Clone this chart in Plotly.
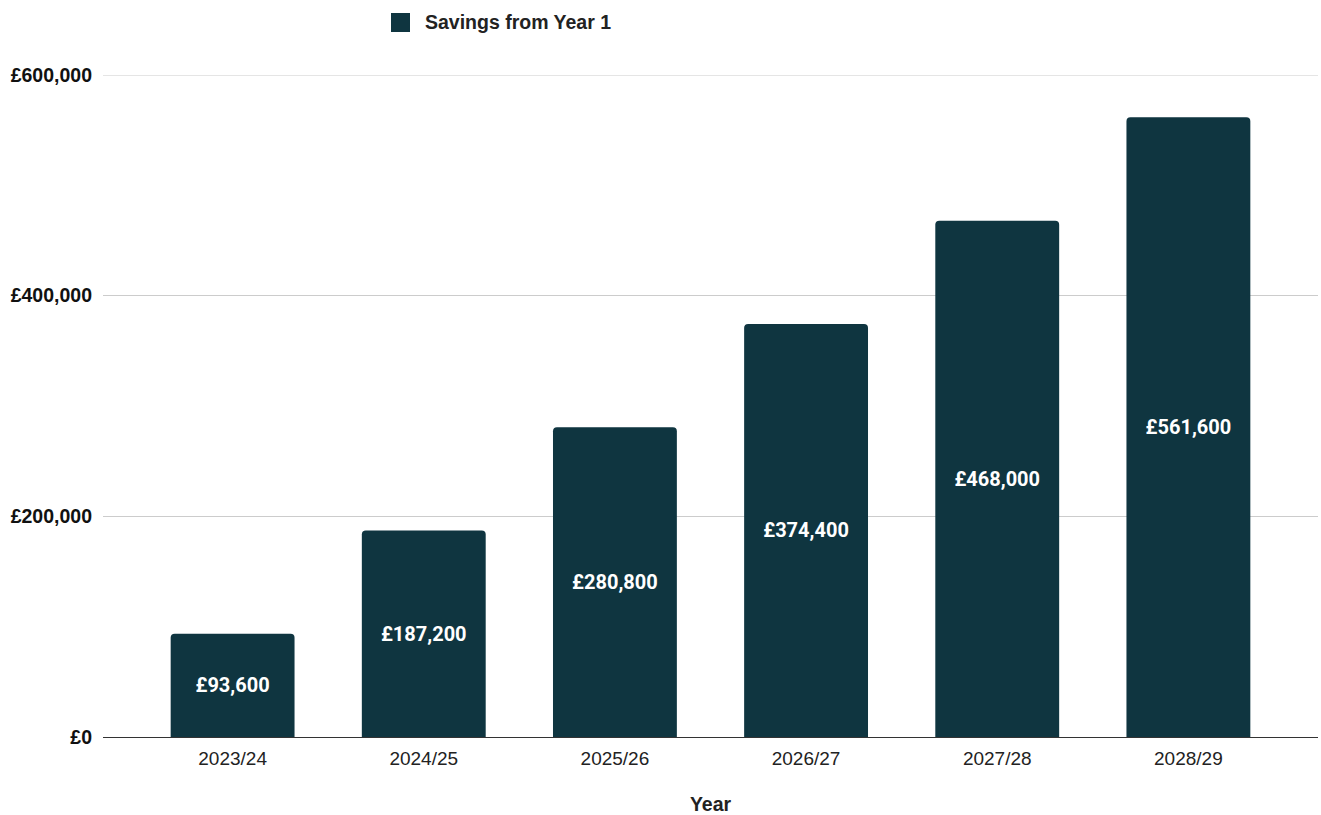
import plotly.graph_objects as go

years = ["2023/24", "2024/25", "2025/26", "2026/27", "2027/28", "2028/29"]
savings = [93600, 187200, 280800, 374400, 468000, 561600]
series_name = "Savings from Year 1"
y_ticks = [0, 200000, 400000, 600000]
y_tick_text = ["£0", "£200,000", "£400,000", "£600,000"]
bar_color = "#0f3540"
grid_color = "#cccccc"

fig = go.Figure()
fig.add_trace(go.Bar(
    x=years, y=savings, name=series_name,
    marker=dict(color=bar_color, line=dict(width=0)),
    width=0.648,
    text=[f"£{v:,.0f}" for v in savings],
    textposition="inside", insidetextanchor="middle",
    textangle=0,
    textfont=dict(family="Roboto", size=20, color="white", weight="bold"),
    showlegend=False,
))
# top gridline at the range edge
fig.add_shape(type="line", xref="paper", yref="y", x0=0, x1=1,
              y0=y_ticks[-1], y1=y_ticks[-1], line=dict(color=grid_color, width=1), layer="below")
# legend swatch + label
fig.add_shape(type="rect", xref="paper", yref="paper",
              x0=(391 - 103) / 1215, x1=(410 - 103) / 1215,
              y0=1 + (75 - 32) / 662, y1=1 + (75 - 13) / 662,
              fillcolor=bar_color, line=dict(width=0))
fig.add_annotation(text=series_name, xref="paper", yref="paper",
                   x=(423 - 103) / 1215, xanchor="left",
                   y=1 + (75 - 22) / 662, yanchor="middle", showarrow=False,
                   font=dict(family="Liberation Sans", size=19.5, color="#222", weight="bold"))
fig.update_layout(
    width=1321, height=815,
    margin=dict(l=103, r=3, t=75, b=78, autoexpand=False),
    plot_bgcolor="white", paper_bgcolor="white",
    barcornerradius=4,
    showlegend=False,
    xaxis=dict(
        range=[-0.678, 5.678],
        showgrid=False,
        showline=True, linecolor="#333", linewidth=1,
        ticks="", ticklabelstandoff=4,
        tickfont=dict(family="Liberation Sans", size=19, color="#222"),
        title=dict(text="Year", font=dict(family="Liberation Sans", size=19.5, color="#222", weight="bold"), standoff=31),
    ),
    yaxis=dict(
        range=[0, 600000],
        tickvals=y_ticks, ticktext=y_tick_text,
        showgrid=True, gridcolor=grid_color, gridwidth=1,
        zeroline=False,
        ticks="", ticklabelstandoff=10,
        tickfont=dict(family="Liberation Sans", size=19.5, color="#111", weight="bold"),
    ),
)
fig.write_html("out.html")
